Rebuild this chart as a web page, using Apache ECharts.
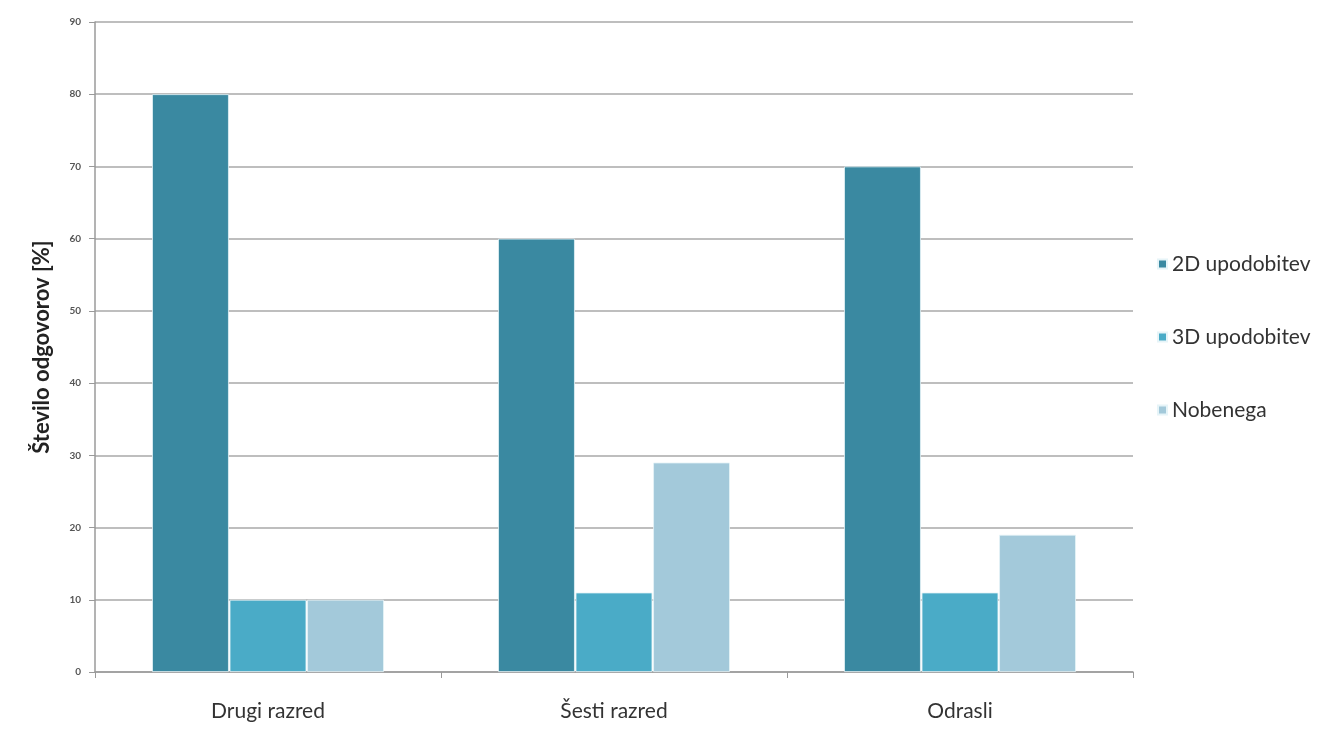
<!DOCTYPE html>
<html>
<head>
<meta charset="utf-8">
<script src="https://cdn.jsdelivr.net/npm/echarts@6/dist/echarts.min.js"></script>
<style>
  html, body { margin: 0; padding: 0; background: #ffffff; }
  #chart { width: 1325px; height: 734px; }
</style>
</head>
<body>
<div id="chart"></div>
<script>
// Response groups and shares of answers (%)
const categories = ['Drugi razred', 'Šesti razred', 'Odrasli'];
const seriesNames = ['2D upodobitev', '3D upodobitev', 'Nobenega'];
const values2D = [80, 60, 70];
const values3D = [10, 11, 11];
const valuesNone = [10, 29, 19];
const yAxisTitle = 'Število odgovorov [%]';

const colors = ['#3a89a1', '#4aabc7', '#a3c9da'];
const seriesValues = [values2D, values3D, valuesNone];

const chart = echarts.init(document.getElementById('chart'));
chart.setOption({
  animation: false,
  textStyle: { fontFamily: 'Lato, "Open Sans", sans-serif' },
  grid: { left: 95, top: 22, right: 192, bottom: 62 },
  legend: {
    orient: 'vertical',
    left: 1152,
    top: 248,
    itemGap: 51,
    itemWidth: 9,
    itemHeight: 9,
    icon: 'rect',
    textStyle: { fontSize: 21, lineHeight: 22, color: '#333333', padding: [0, 0, 0, 0] },
    data: seriesNames
  },
  xAxis: {
    type: 'category',
    data: categories,
    axisLine: { lineStyle: { color: '#9a9a9a', width: 1.5 } },
    axisTick: { show: true, length: 6, lineStyle: { color: '#9a9a9a' } },
    axisLabel: { fontSize: 21, color: '#333333', margin: 29 }
  },
  yAxis: {
    type: 'value',
    min: 0,
    max: 90,
    interval: 10,
    name: yAxisTitle,
    nameLocation: 'middle',
    nameGap: 42,
    nameTextStyle: { fontSize: 22, fontWeight: 'bold', color: '#222222' },
    axisLine: { show: true, lineStyle: { color: '#9a9a9a', width: 1.5 } },
    axisTick: { show: true, length: 6, lineStyle: { color: '#9a9a9a' } },
    axisLabel: { fontSize: 10, fontWeight: 'bold', color: '#555555', margin: 14 },
    splitLine: { lineStyle: { color: '#a8a8a8', width: 1.5 } }
  },
  series: seriesNames.map((name, i) => ({
    name: name,
    type: 'bar',
    data: seriesValues[i],
    barGap: '1%',
    barCategoryGap: '33%',
    itemStyle: { color: colors[i], borderColor: '#e6f4f8', borderWidth: 0.8 }
  }))
});
</script>
</body>
</html>
